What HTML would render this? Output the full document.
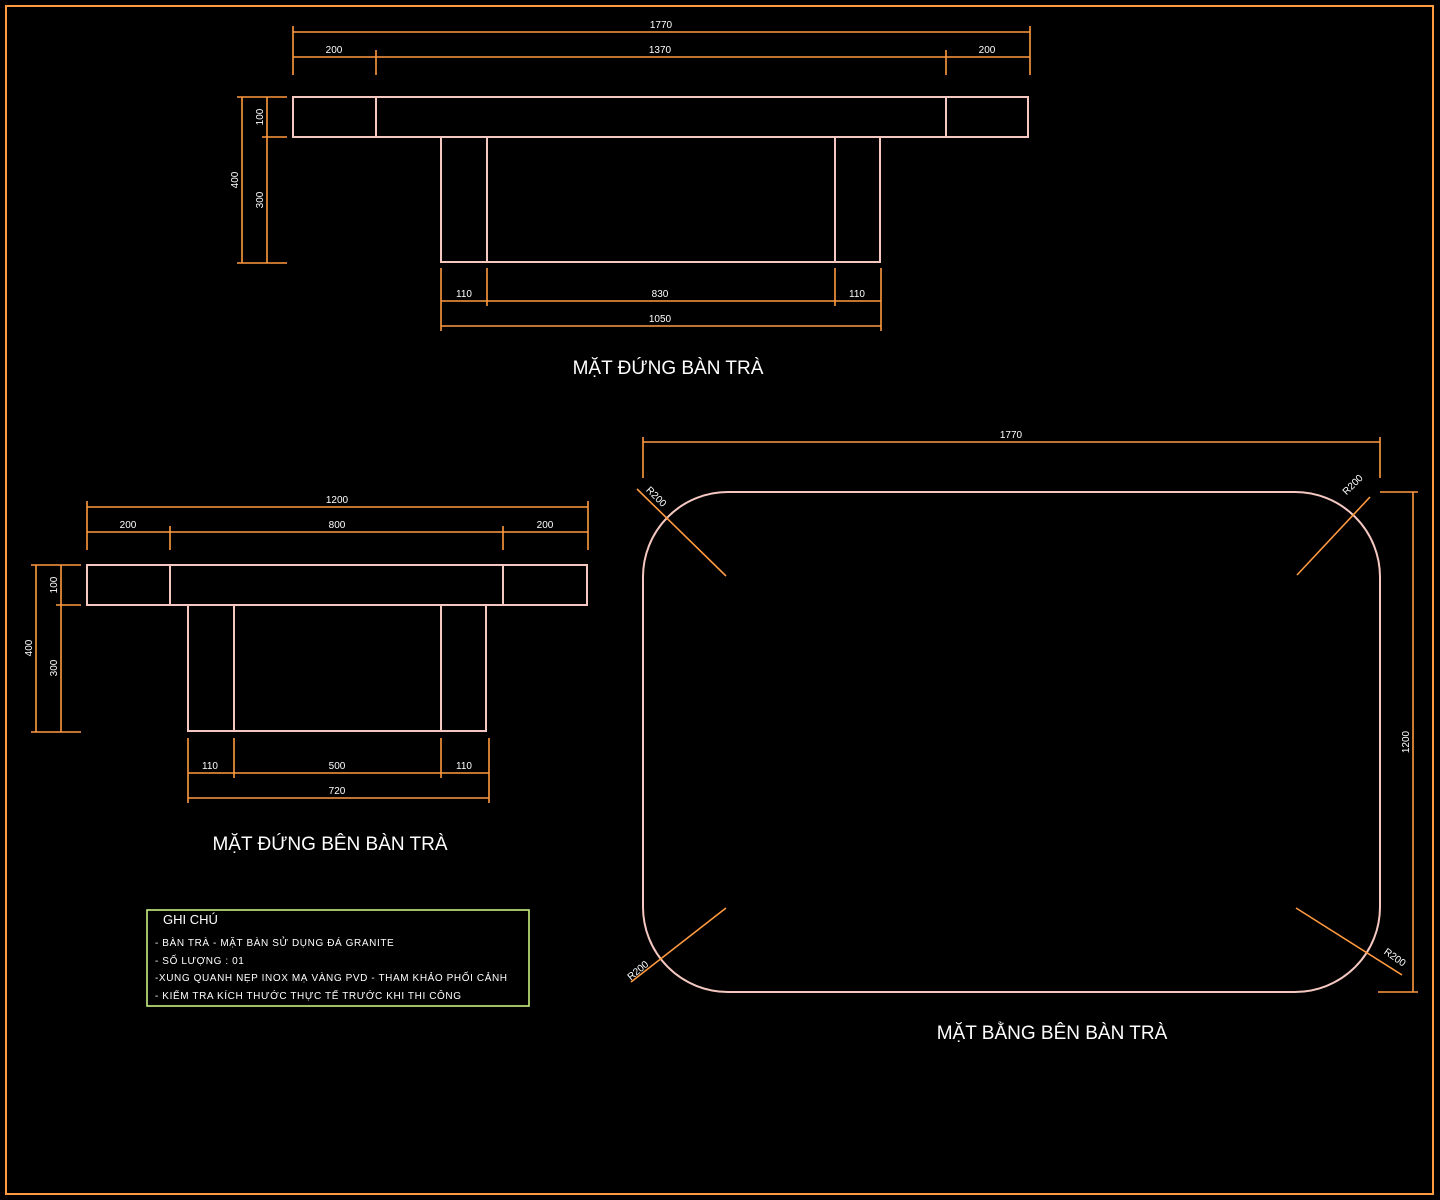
<!DOCTYPE html>
<html><head><meta charset="utf-8"><style>
html,body{margin:0;padding:0;background:#000;}
svg{display:block;}
text{font-family:"Liberation Sans",sans-serif;fill:#fff;}
</style></head><body>
<svg width="1440" height="1200" viewBox="0 0 1440 1200" xmlns="http://www.w3.org/2000/svg">
<rect x="0" y="0" width="1440" height="1200" fill="#000"/>
<rect x="6" y="6" width="1427" height="1188" fill="none" stroke="#ff9a40" stroke-width="2"/>

<g fill="none" stroke="#f4c8c0" stroke-width="2">
 <rect x="293" y="97" width="735" height="40"/>
 <line x1="376" y1="97" x2="376" y2="137"/><line x1="946" y1="97" x2="946" y2="137"/>
 <rect x="441" y="137" width="439" height="125"/>
 <line x1="487" y1="137" x2="487" y2="262"/><line x1="835" y1="137" x2="835" y2="262"/>
 <rect x="87" y="565" width="500" height="40"/>
 <line x1="170" y1="565" x2="170" y2="605"/><line x1="503" y1="565" x2="503" y2="605"/>
 <rect x="188" y="605" width="298" height="126"/>
 <line x1="234" y1="605" x2="234" y2="731"/><line x1="441" y1="605" x2="441" y2="731"/>
 <rect x="643" y="492" width="737" height="500" rx="85" ry="85"/>
</g>

<g stroke="#ff9a40" stroke-width="1.6" fill="none">
 <line x1="293" y1="32" x2="1030" y2="32"/>
 <line x1="293" y1="57" x2="1030" y2="57"/>
 <line x1="293" y1="26" x2="293" y2="75"/><line x1="1030" y1="26" x2="1030" y2="75"/>
 <line x1="376" y1="50" x2="376" y2="75"/><line x1="946" y1="50" x2="946" y2="75"/>
 <line x1="242" y1="97" x2="242" y2="263"/><line x1="267" y1="97" x2="267" y2="263"/>
 <line x1="237" y1="97" x2="287" y2="97"/><line x1="262" y1="137" x2="287" y2="137"/><line x1="237" y1="263" x2="287" y2="263"/>
 <line x1="441" y1="301" x2="881" y2="301"/><line x1="441" y1="326" x2="881" y2="326"/>
 <line x1="441" y1="268" x2="441" y2="331"/><line x1="881" y1="268" x2="881" y2="331"/>
 <line x1="487" y1="268" x2="487" y2="306"/><line x1="835" y1="268" x2="835" y2="306"/>
 <line x1="87" y1="507" x2="588" y2="507"/><line x1="87" y1="532" x2="588" y2="532"/>
 <line x1="87" y1="501" x2="87" y2="550"/><line x1="588" y1="501" x2="588" y2="550"/>
 <line x1="170" y1="526" x2="170" y2="550"/><line x1="503" y1="526" x2="503" y2="550"/>
 <line x1="36" y1="565" x2="36" y2="732"/><line x1="61" y1="565" x2="61" y2="732"/>
 <line x1="31" y1="565" x2="81" y2="565"/><line x1="56" y1="605" x2="81" y2="605"/><line x1="31" y1="732" x2="81" y2="732"/>
 <line x1="188" y1="773" x2="489" y2="773"/><line x1="188" y1="798" x2="489" y2="798"/>
 <line x1="188" y1="738" x2="188" y2="803"/><line x1="489" y1="738" x2="489" y2="803"/>
 <line x1="234" y1="738" x2="234" y2="778"/><line x1="441" y1="738" x2="441" y2="778"/>
 <line x1="643" y1="442" x2="1380" y2="442"/>
 <line x1="643" y1="437" x2="643" y2="478"/><line x1="1380" y1="437" x2="1380" y2="478"/>
 <line x1="1413" y1="492" x2="1413" y2="992"/>
 <line x1="1380" y1="492" x2="1418" y2="492"/><line x1="1378" y1="992" x2="1418" y2="992"/>
 <line x1="637" y1="489" x2="726" y2="576"/>
 <line x1="1297" y1="575" x2="1370" y2="497"/>
 <line x1="726" y1="908" x2="631" y2="982"/>
 <line x1="1296" y1="908" x2="1402" y2="975"/>
</g>

<g font-size="10" text-anchor="middle">
 <text x="661" y="28">1770</text>
 <text x="334" y="53">200</text>
 <text x="660" y="53">1370</text>
 <text x="987" y="53">200</text>
 <text x="464" y="297">110</text>
 <text x="660" y="297">830</text>
 <text x="857" y="297">110</text>
 <text x="660" y="322">1050</text>
 <text transform="translate(238,180) rotate(-90)">400</text>
 <text transform="translate(263,117) rotate(-90)">100</text>
 <text transform="translate(263,200) rotate(-90)">300</text>
 <text x="337" y="503">1200</text>
 <text x="128" y="528">200</text>
 <text x="337" y="528">800</text>
 <text x="545" y="528">200</text>
 <text x="210" y="769">110</text>
 <text x="337" y="769">500</text>
 <text x="464" y="769">110</text>
 <text x="337" y="794">720</text>
 <text transform="translate(32,648) rotate(-90)">400</text>
 <text transform="translate(57,585) rotate(-90)">100</text>
 <text transform="translate(57,668) rotate(-90)">300</text>
 <text x="1011" y="438">1770</text>
 <text transform="translate(1409,742) rotate(-90)">1200</text>
 <text transform="translate(654,499) rotate(45)">R200</text>
 <text transform="translate(1355,487) rotate(-45)">R200</text>
 <text transform="translate(640,973) rotate(-40)">R200</text>
 <text transform="translate(1393,960) rotate(35)">R200</text>
</g>

<g font-size="19" text-anchor="middle">
 <text x="668" y="374">MẶT ĐỨNG BÀN TRÀ</text>
 <text x="330" y="850">MẶT ĐỨNG BÊN BÀN TRÀ</text>
 <text x="1052" y="1039">MẶT BẰNG BÊN BÀN TRÀ</text>
</g>

<rect x="147" y="910" width="382" height="96" fill="none" stroke="#c8f080" stroke-width="1.6"/>
<g font-size="10" letter-spacing="0.6">
 <text x="163" y="924" font-size="13" letter-spacing="0">GHI CHÚ</text>
 <text x="155" y="946">- BÀN TRÀ - MẶT BÀN SỬ DỤNG ĐÁ GRANITE</text>
 <text x="155" y="964">- SỐ LƯỢNG : 01</text>
 <text x="155" y="981">-XUNG QUANH NẸP INOX MẠ VÀNG PVD - THAM KHẢO PHỐI CẢNH</text>
 <text x="155" y="999">- KIỂM TRA KÍCH THƯỚC THỰC TẾ TRƯỚC KHI THI CÔNG</text>
</g>
</svg>
</body></html>
